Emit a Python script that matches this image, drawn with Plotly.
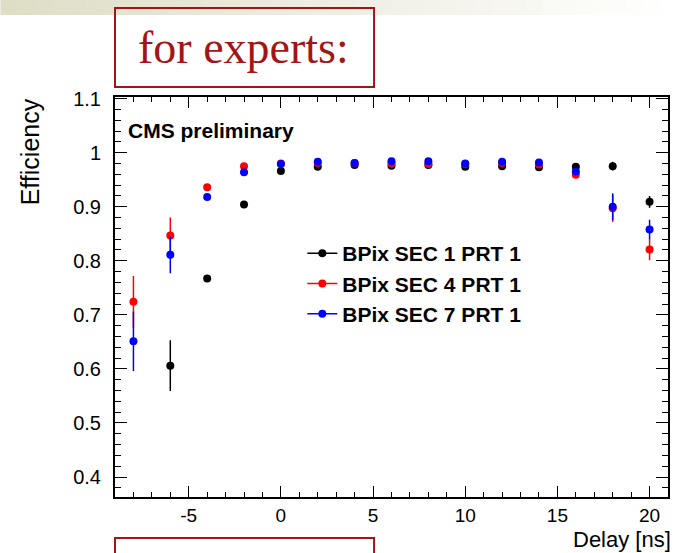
import plotly.graph_objects as go

# ---------------- data ----------------
delay = [-8, -6, -4, -2, 0, 2, 4, 6, 8, 10, 12, 14, 16, 18, 20]

sec1_x = [-6, -4, -2, 0, 2, 4, 6, 8, 10, 12, 14, 16, 18, 20]
sec1_y = [0.606, 0.767, 0.904, 0.966, 0.974, 0.977, 0.976, 0.977, 0.974, 0.975, 0.973, 0.974, 0.975, 0.909]
sec1_e = [0.047, 0.004, 0.004, 0.003, 0.003, 0.003, 0.003, 0.003, 0.003, 0.003, 0.003, 0.004, 0.008, 0.011]

sec4_x = delay
sec4_y = [0.724, 0.847, 0.936, 0.975, 0.980, 0.981, 0.981, 0.980, 0.979, 0.979, 0.981, 0.978, 0.959, 0.897, 0.821]
sec4_e = [0.048, 0.033, 0.004, 0.003, 0.003, 0.003, 0.003, 0.003, 0.003, 0.003, 0.003, 0.003, 0.005, 0.025, 0.020]

sec7_x = delay
sec7_y = [0.651, 0.811, 0.918, 0.964, 0.979, 0.983, 0.981, 0.984, 0.984, 0.980, 0.983, 0.982, 0.965, 0.900, 0.858]
sec7_e = [0.055, 0.034, 0.004, 0.003, 0.003, 0.003, 0.003, 0.003, 0.003, 0.003, 0.003, 0.003, 0.005, 0.025, 0.018]

series_names = ["BPix SEC 1 PRT 1", "BPix SEC 4 PRT 1", "BPix SEC 7 PRT 1"]
series_colors = ["#000000", "#ff0000", "#0000ff"]

x_tickvals = [-5, 0, 5, 10, 15, 20]
x_ticktext = ["-5", "0", "5", "10", "15", "20"]
y_tickvals = [0.4, 0.5, 0.6, 0.7, 0.8, 0.9, 1.0, 1.1]
y_ticktext = ["0.4", "0.5", "0.6", "0.7", "0.8", "0.9", "1", "1.1"]

x_range = [-9, 21]
y_range = [0.363, 1.103]

FONT = "Liberation Sans, Arial, Helvetica, sans-serif"
DARKRED = "#a31515"

# ---------------- figure ----------------
fig = go.Figure()

series = [(sec1_x, sec1_y, sec1_e), (sec4_x, sec4_y, sec4_e), (sec7_x, sec7_y, sec7_e)]
for (xs, ys, es), name, col in zip(series, series_names, series_colors):
    fig.add_trace(go.Scatter(
        x=xs, y=ys, mode="markers", name=name, showlegend=False,
        marker=dict(color=col, size=8),
        error_y=dict(type="data", array=es, symmetric=True, color=col,
                     thickness=1.5, width=0),
    ))

# legend entries (line + marker, like ROOT "lep")
for name, col in zip(series_names, series_colors):
    fig.add_trace(go.Scatter(
        x=[None], y=[None], mode="lines+markers", name=name,
        marker=dict(color=col, size=8), line=dict(color=col, width=1.5),
        showlegend=True,
    ))

W, H = 680, 553
L, R, T, B = 115, 10, 97, 56
PW, PH = W - L - R, H - T - B


def px(x):
    return (x - L) / PW


def py(y):
    return (H - B - y) / PH


fig.update_layout(
    width=W, height=H,
    margin=dict(l=L, r=R, t=T, b=B, pad=0),
    paper_bgcolor="white", plot_bgcolor="white",
    font=dict(family=FONT, color="black", size=20),
    showlegend=True,
    legend=dict(
        x=px(303), y=py(233), xanchor="left", yanchor="top",
        bgcolor="rgba(0,0,0,0)", borderwidth=0,
        font=dict(family=FONT, size=21, color="black", weight="bold"),
        itemclick=False,
    ),
)

fig.update_xaxes(
    range=x_range, tickmode="array", tickvals=x_tickvals, ticktext=x_ticktext,
    showgrid=False, zeroline=False,
    showline=True, linecolor="black", linewidth=2, mirror="ticks",
    ticks="inside", ticklen=11, tickwidth=1, tickcolor="black",
    ticklabelstandoff=0,
    tickfont=dict(family=FONT, size=19, color="black"),
    minor=dict(dtick=1, tick0=0, ticks="inside", ticklen=5, tickwidth=1,
               tickcolor="black", showgrid=False),
)
fig.update_yaxes(
    range=y_range, tickmode="array", tickvals=y_tickvals, ticktext=y_ticktext,
    showgrid=False, zeroline=False,
    showline=True, linecolor="black", linewidth=2, mirror="ticks",
    ticks="inside", ticklen=12, tickwidth=1, tickcolor="black",
    ticklabelstandoff=8,
    tickfont=dict(family=FONT, size=20, color="black"),
    minor=dict(dtick=0.02, tick0=0, ticks="inside", ticklen=6, tickwidth=1,
               tickcolor="black", showgrid=False),
)

# ---------------- decorations ----------------
shapes = []
# slide header gradient band
n = 40
c0 = (222, 221, 198)
for i in range(n):
    f = i / (n - 1)
    col = tuple(int(round(c0[k] + (255 - c0[k]) * f)) for k in range(3))
    shapes.append(dict(type="rect", xref="paper", yref="paper",
                       x0=px(i * W / n), x1=px((i + 1) * W / n + 1),
                       y0=py(15), y1=py(0), line=dict(width=0),
                       fillcolor="rgb(%d,%d,%d)" % col, layer="below"))
# "for experts:" box
shapes.append(dict(type="rect", xref="paper", yref="paper",
                   x0=px(115), x1=px(375), y0=py(87), y1=py(8),
                   line=dict(color=DARKRED, width=2), fillcolor="rgba(0,0,0,0)"))
# lower box (cut by page)
shapes.append(dict(type="rect", xref="paper", yref="paper",
                   x0=px(115), x1=px(375), y0=py(565), y1=py(538),
                   line=dict(color=DARKRED, width=2), fillcolor="rgba(0,0,0,0)"))
fig.update_layout(shapes=shapes)

annotations = [
    dict(text="for experts:", xref="paper", yref="paper", x=px(244), y=py(47),
         xanchor="center", yanchor="middle", showarrow=False,
         font=dict(family="Liberation Serif, Times New Roman, serif", size=46, color=DARKRED)),
    dict(text="Efficiency", xref="paper", yref="paper", x=px(30), y=py(152),
         xanchor="center", yanchor="middle", textangle=-90, showarrow=False,
         font=dict(family=FONT, size=25, color="black")),
    dict(text="Delay [ns]", xref="paper", yref="paper", x=px(674), y=py(539),
         xanchor="right", yanchor="middle", showarrow=False, borderpad=0,
         font=dict(family=FONT, size=22, color="black")),
    dict(text="<b>CMS preliminary</b>", xref="paper", yref="paper", x=px(126), y=py(130),
         xanchor="left", yanchor="middle", showarrow=False,
         font=dict(family=FONT, size=21, color="black")),
]
fig.update_layout(annotations=annotations)

fig.write_html("out.html")
